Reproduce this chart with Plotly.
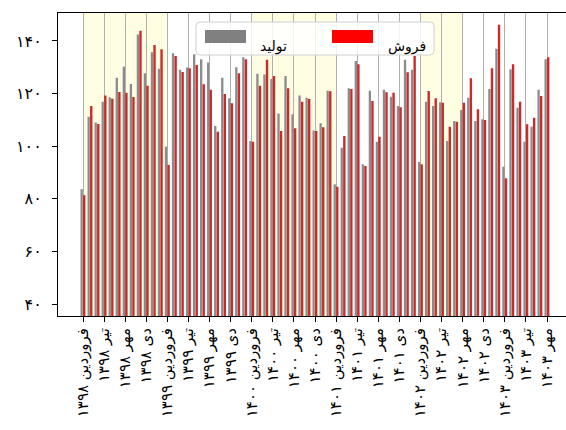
import plotly.graph_objects as go

# ---- data ----
month_index = list(range(67))  # فروردین ۱۳۹۸ ... مهر ۱۴۰۳

production = [83.7, 111.2, 109.0, 116.9, 118.6, 126.0, 130.2, 123.6, 142.4, 127.7, 135.7, 129.4,
              99.8, 135.3, 129.0, 129.9, 134.9, 133.0, 131.8, 107.7, 126.0, 118.2, 130.0, 133.8,
              102.0, 127.5, 127.2, 125.5, 112.4, 126.7, 112.1, 119.3, 118.4, 106.0, 108.7, 121.1,
              85.5, 99.4, 122.0, 132.4, 93.1, 121.1, 101.7, 121.4, 118.8, 115.3, 132.8, 129.0,
              94.0, 116.9, 115.3, 116.7, 102.0, 109.6, 113.8, 118.4, 109.6, 110.2, 121.7, 137.0,
              92.2, 129.2, 114.6, 101.7, 107.4, 121.4, 133.0]

sales = [81.4, 115.3, 108.4, 119.3, 118.0, 120.6, 120.3, 118.7, 143.9, 123.0, 138.4, 136.8,
         92.9, 134.3, 128.2, 129.6, 130.8, 123.5, 121.4, 105.5, 119.8, 116.3, 127.7, 133.0,
         101.7, 123.0, 132.8, 126.7, 105.8, 122.0, 106.8, 116.9, 117.9, 105.8, 107.2, 120.9,
         84.6, 103.9, 121.7, 131.1, 92.5, 117.2, 103.6, 120.5, 120.3, 114.8, 128.1, 134.3,
         93.1, 121.0, 118.2, 116.5, 107.4, 109.3, 116.5, 125.8, 114.0, 110.0, 129.6, 146.1,
         87.8, 131.1, 116.9, 108.3, 110.8, 119.1, 133.8]

tick_positions = [0, 3, 6, 9, 12, 15, 18, 21, 24, 27, 30, 33, 36, 39, 42, 45, 48, 51, 54, 57, 60, 63, 66]
tick_labels = ["فروردین ۱۳۹۸", "تیر ۱۳۹۸", "مهر ۱۳۹۸", "دی ۱۳۹۸",
               "فروردین ۱۳۹۹", "تیر ۱۳۹۹", "مهر ۱۳۹۹", "دی ۱۳۹۹",
               "فروردین ۱۴۰۰", "تیر ۱۴۰۰", "مهر ۱۴۰۰", "دی ۱۴۰۰",
               "فروردین ۱۴۰۱", "تیر ۱۴۰۱", "مهر ۱۴۰۱", "دی ۱۴۰۱",
               "فروردین ۱۴۰۲", "تیر ۱۴۰۲", "مهر ۱۴۰۲", "دی ۱۴۰۲",
               "فروردین ۱۴۰۳", "تیر ۱۴۰۳", "مهر ۱۴۰۳"]

y_ticks = [40, 60, 80, 100, 120, 140]
y_tick_labels = ["۴۰", "۶۰", "۸۰", "۱۰۰", "۱۲۰", "۱۴۰"]

shaded_periods = [(0, 12), (24, 36), (48, 54)]

series_names = ["تولید", "فروش"]

FONT = "DejaVu Sans"
GRAY_BAR = "#8c8c8c"
RED_BAR = "#cc2a2a"

fig = go.Figure()
fig.add_trace(go.Bar(x=month_index, y=production, name=series_names[0],
                     marker=dict(color=GRAY_BAR, line=dict(width=0)),
                     width=0.33, offset=-0.36, showlegend=False))
fig.add_trace(go.Bar(x=month_index, y=sales, name=series_names[1],
                     marker=dict(color=RED_BAR, line=dict(width=0)),
                     width=0.34, offset=0.0, showlegend=False))

for a, b in shaded_periods:
    fig.add_shape(type="rect", xref="x", yref="paper", x0=a, x1=b, y0=0, y1=1,
                  fillcolor="#fffde2", line=dict(width=0), layer="below")

# legend box (manual, matplotlib-like)
W, H = 508.0, 303.0
def px2paper(x, y):
    return (x - 58) / W, (316 - y) / H

bx0, by0 = px2paper(196, 55)
bx1, by1 = px2paper(434, 22)
rx, ry = 4 / W, 4 / H
path = (f"M {bx0+rx},{by0} L {bx1-rx},{by0} Q {bx1},{by0} {bx1},{by0+ry} "
        f"L {bx1},{by1-ry} Q {bx1},{by1} {bx1-rx},{by1} L {bx0+rx},{by1} "
        f"Q {bx0},{by1} {bx0},{by1-ry} L {bx0},{by0+ry} Q {bx0},{by0} {bx0+rx},{by0} Z")
fig.add_shape(type="path", xref="paper", yref="paper", path=path,
              fillcolor="rgba(255,255,255,0.85)", line=dict(color="#d0d0d0", width=1), layer="above")

gx0, gy0 = px2paper(205, 43)
gx1, gy1 = px2paper(246, 30)
fig.add_shape(type="rect", xref="paper", yref="paper", x0=gx0, x1=gx1, y0=gy0, y1=gy1,
              fillcolor="#808080", line=dict(width=0), layer="above")
rx0, _ = px2paper(332, 43)
rx1, _ = px2paper(373, 30)
fig.add_shape(type="rect", xref="paper", yref="paper", x0=rx0, x1=rx1, y0=gy0, y1=gy1,
              fillcolor="#ff0000", line=dict(width=0), layer="above")

tx1, ty = px2paper(289, 36)
tx2, _ = px2paper(428, 36)
fig.add_annotation(x=tx1, y=ty, xref="paper", yref="paper", text=series_names[0],
                   xanchor="right", showarrow=False, font=dict(family=FONT, size=14, color="black"))
fig.add_annotation(x=tx2, y=ty, xref="paper", yref="paper", text=series_names[1],
                   xanchor="right", showarrow=False, font=dict(family=FONT, size=14, color="black"))

fig.update_layout(
    width=566, height=430,
    margin=dict(l=58, r=0, t=13, b=114),
    paper_bgcolor="white", plot_bgcolor="white",
    barmode="overlay",
    font=dict(family=FONT, size=12, color="black"),
    xaxis=dict(range=[-3.56, 68.7], tickmode="array", tickvals=tick_positions,
               ticktext=tick_labels, tickangle=-90, ticks="outside", ticklen=5,
               tickcolor="black", showline=True, linecolor="black", linewidth=1,
               mirror=True, showgrid=True, gridcolor="#b0b0b0", gridwidth=1,
               zeroline=False, automargin=False, tickfont=dict(family=FONT, size=15)),
    yaxis=dict(range=[35.5, 150.6], tickmode="array", tickvals=y_ticks,
               ticktext=y_tick_labels, ticks="outside", ticklen=5, tickcolor="black",
               showline=True, linecolor="black", linewidth=1, mirror=False,
               showgrid=False, zeroline=False, automargin=False, ticklabelstandoff=7,
               tickfont=dict(family=FONT, size=16)),
)

fig.write_html("out.html", config={"displayModeBar": False},
               post_script="document.body.style.margin='0px';document.body.style.overflow='hidden';")
